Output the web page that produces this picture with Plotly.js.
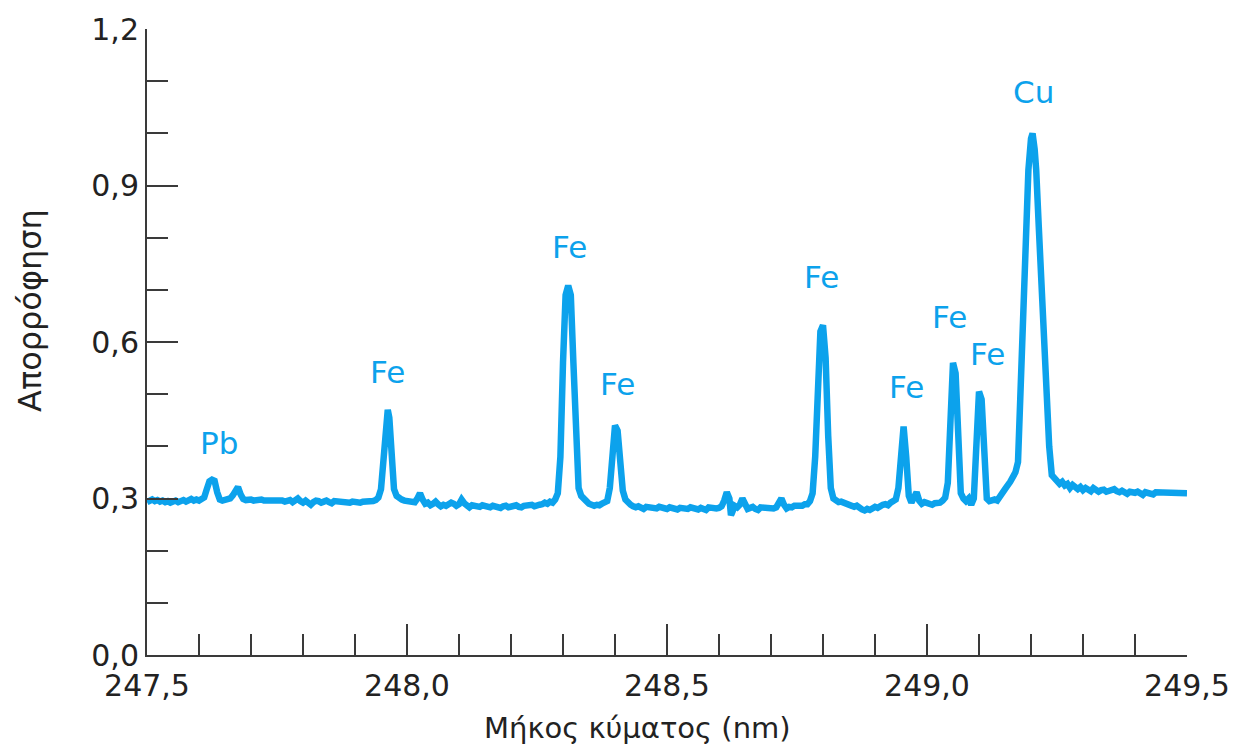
<!DOCTYPE html>
<html>
<head>
<meta charset="utf-8">
<script src="https://cdn.plot.ly/plotly-3.0.1.min.js"></script>
<style>html,body{margin:0;padding:0;background:#fff;}#chart{width:1237px;height:751px;}</style>
</head>
<body>
<div id="chart"></div>
<script>
// Wavelength (nm)
const wavelength = [
247.500,247.505,247.510,247.515,247.520,247.525,247.530,247.535,247.540,247.545,
247.550,247.555,247.560,247.565,247.570,247.575,247.580,247.585,247.590,247.595,
247.600,247.605,247.610,247.615,247.620,247.625,247.630,247.635,247.640,247.645,
247.650,247.655,247.660,247.665,247.670,247.675,247.680,247.685,247.690,247.695,
247.700,247.705,247.710,247.715,247.720,247.725,247.730,247.735,247.740,247.745,
247.750,247.755,247.760,247.765,247.770,247.775,247.780,247.785,247.790,247.795,
247.800,247.805,247.810,247.815,247.820,247.825,247.830,247.835,247.840,247.845,
247.850,247.855,247.860,247.865,247.870,247.875,247.880,247.885,247.890,247.895,
247.900,247.905,247.910,247.915,247.920,247.925,247.930,247.935,247.940,247.945,
247.950,247.955,247.960,247.963,247.966,247.970,247.975,247.980,247.985,247.990,
247.995,248.000,248.005,248.010,248.015,248.020,248.025,248.030,248.035,248.040,
248.045,248.050,248.055,248.060,248.065,248.070,248.075,248.080,248.085,248.090,
248.095,248.100,248.105,248.110,248.115,248.120,248.125,248.130,248.135,248.140,
248.145,248.150,248.155,248.160,248.165,248.170,248.175,248.180,248.185,248.190,
248.195,248.200,248.205,248.210,248.215,248.220,248.225,248.230,248.235,248.240,
248.245,248.250,248.255,248.260,248.265,248.270,248.275,248.280,248.285,248.290,
248.295,248.300,248.305,248.310,248.315,248.320,248.325,248.330,248.335,248.340,
248.345,248.350,248.355,248.360,248.365,248.370,248.375,248.380,248.385,248.390,
248.395,248.400,248.405,248.410,248.415,248.420,248.425,248.430,248.435,248.440,
248.445,248.450,248.455,248.460,248.465,248.470,248.475,248.480,248.485,248.490,
248.495,248.500,248.505,248.510,248.515,248.520,248.525,248.530,248.535,248.540,
248.545,248.550,248.555,248.560,248.565,248.570,248.575,248.580,248.585,248.590,
248.595,248.600,248.605,248.610,248.615,248.620,248.623,248.626,248.630,248.635,
248.640,248.645,248.650,248.655,248.660,248.665,248.670,248.675,248.680,248.685,
248.690,248.695,248.700,248.705,248.710,248.715,248.720,248.725,248.730,248.735,
248.740,248.745,248.750,248.755,248.760,248.765,248.770,248.775,248.780,248.785,
248.790,248.795,248.800,248.805,248.810,248.815,248.820,248.825,248.830,248.835,
248.840,248.845,248.850,248.855,248.860,248.865,248.870,248.875,248.880,248.885,
248.890,248.895,248.900,248.905,248.910,248.915,248.920,248.925,248.930,248.935,
248.940,248.945,248.950,248.955,248.960,248.965,248.970,248.975,248.980,248.985,
248.990,248.995,249.000,249.005,249.010,249.015,249.020,249.025,249.030,249.035,
249.040,249.045,249.050,249.055,249.060,249.065,249.070,249.075,249.080,249.085,
249.090,249.095,249.100,249.105,249.110,249.115,249.120,249.125,249.130,249.135,
249.140,249.150,249.160,249.170,249.175,249.180,249.185,249.190,249.195,249.200,
249.203,249.207,249.210,249.215,249.220,249.225,249.230,249.235,249.240,249.245,
249.250,249.255,249.260,249.265,249.270,249.275,249.280,249.285,249.290,249.295,
249.300,249.305,249.310,249.315,249.320,249.325,249.330,249.335,249.340,249.345,
249.350,249.355,249.360,249.365,249.370,249.375,249.380,249.385,249.390,249.395,
249.400,249.405,249.410,249.415,249.420,249.425,249.430,249.435,249.440,249.445,
249.450,249.460,249.470,249.480,249.490,249.500
];
// Absorbance
const absorbance = [
0.293,0.296,0.298,0.295,0.297,0.294,0.296,0.293,0.295,0.292,
0.294,0.296,0.293,0.295,0.297,0.294,0.296,0.299,0.296,0.298,
0.296,0.298,0.302,0.318,0.333,0.336,0.334,0.312,0.298,0.296,
0.298,0.297,0.300,0.306,0.318,0.322,0.308,0.299,0.297,0.299,
0.298,0.296,0.297,0.299,0.298,0.296,0.296,0.298,0.297,0.295,
0.295,0.297,0.296,0.294,0.294,0.297,0.293,0.296,0.300,0.295,
0.292,0.296,0.291,0.288,0.293,0.296,0.295,0.292,0.294,0.296,
0.293,0.291,0.295,0.294,0.293,0.295,0.294,0.292,0.292,0.294,
0.293,0.291,0.292,0.294,0.294,0.292,0.293,0.295,0.297,0.302,
0.318,0.380,0.462,0.470,0.455,0.380,0.318,0.305,0.300,0.298,
0.296,0.295,0.293,0.291,0.293,0.300,0.310,0.298,0.290,0.292,
0.287,0.290,0.294,0.289,0.285,0.288,0.286,0.289,0.292,0.290,
0.286,0.289,0.298,0.291,0.286,0.283,0.287,0.286,0.283,0.284,
0.287,0.286,0.282,0.283,0.286,0.285,0.282,0.282,0.285,0.286,
0.283,0.284,0.287,0.287,0.284,0.283,0.286,0.286,0.289,0.288,
0.285,0.285,0.288,0.289,0.292,0.290,0.294,0.292,0.298,0.310,
0.380,0.560,0.690,0.708,0.690,0.560,0.400,0.320,0.305,0.298,
0.295,0.290,0.287,0.286,0.288,0.287,0.290,0.292,0.295,0.320,
0.390,0.440,0.430,0.360,0.315,0.298,0.292,0.288,0.285,0.283,
0.285,0.282,0.280,0.284,0.283,0.282,0.280,0.281,0.284,0.283,
0.280,0.280,0.283,0.282,0.279,0.279,0.282,0.281,0.278,0.280,
0.283,0.282,0.280,0.279,0.282,0.281,0.278,0.283,0.282,0.280,
0.281,0.282,0.285,0.296,0.312,0.300,0.268,0.275,0.286,0.283,
0.288,0.300,0.286,0.280,0.282,0.284,0.280,0.278,0.283,0.282,
0.281,0.283,0.279,0.281,0.283,0.290,0.300,0.288,0.281,0.284,
0.283,0.286,0.285,0.284,0.286,0.289,0.289,0.295,0.310,0.380,
0.520,0.620,0.632,0.570,0.420,0.320,0.300,0.295,0.293,0.294,
0.292,0.290,0.289,0.287,0.284,0.286,0.281,0.279,0.277,0.280,
0.278,0.283,0.284,0.282,0.286,0.288,0.289,0.287,0.292,0.294,
0.298,0.320,0.400,0.438,0.380,0.305,0.292,0.300,0.312,0.296,
0.290,0.293,0.291,0.289,0.288,0.291,0.290,0.292,0.296,0.302,
0.330,0.460,0.560,0.540,0.400,0.310,0.300,0.295,0.300,0.288,
0.300,0.400,0.505,0.490,0.380,0.300,0.295,0.298,0.298,0.296,
0.305,0.318,0.332,0.350,0.370,0.520,0.680,0.820,0.930,0.990,
1.000,0.970,0.930,0.820,0.710,0.600,0.500,0.400,0.345,0.338,
0.332,0.328,0.332,0.325,0.328,0.320,0.326,0.322,0.318,0.322,
0.316,0.320,0.317,0.314,0.320,0.316,0.313,0.316,0.317,0.313,
0.314,0.318,0.318,0.314,0.312,0.315,0.310,0.309,0.313,0.311,
0.311,0.313,0.308,0.307,0.312,0.311,0.310,0.308,0.312,0.312,
0.311,0.310,0.311,0.309,0.311,0.310
];
// Peak labels
const peakNames = ["Pb","Fe","Fe","Fe","Fe","Fe","Fe","Fe","Cu"];
const labelWavelength = [247.638,247.962,248.313,248.404,248.798,248.960,249.044,249.117,249.204];
const labelAbsorbance = [0.406,0.542,0.782,0.519,0.725,0.514,0.648,0.577,1.079];
const xTicks = [247.5,248.0,248.5,249.0,249.5];
const yTicks = [0.0,0.3,0.6,0.9,1.2];

const lineColor = '#0CA2EC';
const axisColor = '#3a3a3a';
const font = 'DejaVu Sans, sans-serif';

const trace = {
  x: wavelength, y: absorbance, type: 'scatter', mode: 'lines',
  line: {color: lineColor, width: 6.5, shape: 'linear'},
  hoverinfo: 'x+y'
};

const annotations = peakNames.map((n, i) => ({
  x: labelWavelength[i], y: labelAbsorbance[i], xref: 'x', yref: 'y',
  text: n, showarrow: false, xanchor: 'center', yanchor: 'middle',
  font: {family: font, size: 31, color: lineColor}
}));
annotations.push({
  xref: 'paper', yref: 'paper', x: -0.1125, y: 0.5495,
  text: 'Απορρόφηση', textangle: -90, showarrow: false,
  xanchor: 'center', yanchor: 'middle',
  font: {family: font, size: 32, color: '#222'}
});
annotations.push({
  xref: 'paper', yref: 'paper', x: 0.4712, y: -0.1166,
  text: 'Μήκος κύματος (nm)', showarrow: false,
  xanchor: 'center', yanchor: 'middle',
  font: {family: font, size: 29, color: '#222'}
});

const layout = {
  width: 1237, height: 751,
  margin: {l: 147, r: 50, t: 29, b: 96, pad: 0},
  paper_bgcolor: '#fff', plot_bgcolor: '#fff',
  separators: ',.',
  showlegend: false,
  font: {family: font, size: 30, color: '#222'},
  xaxis: {
    range: [247.5, 249.5], tickvals: xTicks, tickformat: '.1f',
    ticks: 'inside', ticklen: 31, tickwidth: 2, tickcolor: axisColor,
    showline: true, linecolor: axisColor, linewidth: 2,
    showgrid: false, zeroline: false, mirror: false,
    ticklabelstandoff: 3,
    tickfont: {family: font, size: 30, color: '#222'},
    minor: {dtick: 0.1, ticks: 'inside', ticklen: 21, tickwidth: 2, tickcolor: axisColor, showgrid: false}
  },
  yaxis: {
    range: [0, 1.2], tickvals: yTicks, tickformat: '.1f',
    ticks: 'inside', ticklen: 31, tickwidth: 2, tickcolor: axisColor,
    showline: true, linecolor: axisColor, linewidth: 2,
    showgrid: false, zeroline: false, mirror: false,
    tickfont: {family: font, size: 30, color: '#222'},
    minor: {dtick: 0.1, ticks: 'inside', ticklen: 21, tickwidth: 2, tickcolor: axisColor, showgrid: false}
  },
  annotations: annotations
};

Plotly.newPlot('chart', [trace], layout, {displayModeBar: false, staticPlot: true});
</script>
</body>
</html>
